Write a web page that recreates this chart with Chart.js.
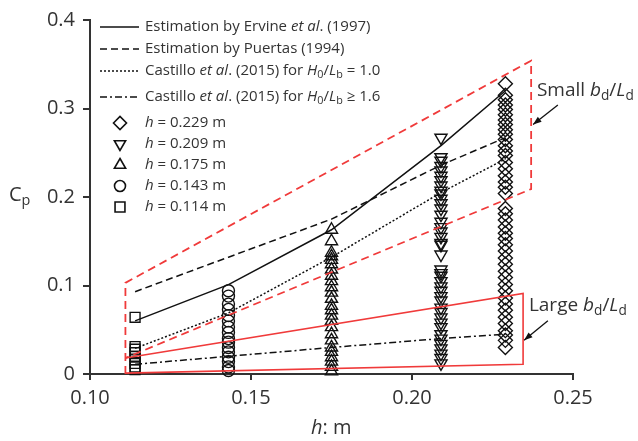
<!DOCTYPE html>
<html lang="en">
<head>
    <meta charset="UTF-8">
    <title>Cp against h</title>
    <script src="https://cdn.jsdelivr.net/npm/chart.js"></script>
    <style>
        html, body { margin: 0; padding: 0; background: #fff; }
        #wrap { width: 638px; height: 441px; }
    </style>
</head>
<body>
    <div id="wrap"><canvas id="cpChart" width="638" height="441"></canvas></div>

    <script>
        // curve values at the five test heights
        const hValues = [0.114, 0.143, 0.175, 0.209, 0.229];
        const ervine = [0.060, 0.101, 0.163, 0.258, 0.320];
        const puertas = [0.093, 0.132, 0.175, 0.236, 0.267];
        const castillo10 = [0.029, 0.069, 0.132, 0.205, 0.243];
        const castillo16 = [0.011, 0.020, 0.030, 0.040, 0.045];

        // measured Cp at each h
        const cp114 = [0.064, 0.031, 0.028, 0.024, 0.020, 0.016, 0.012, 0.008, 0.005];
        const cp143 = [0.094, 0.088, 0.079, 0.073, 0.066, 0.060, 0.053, 0.047, 0.040, 0.036,
                       0.030, 0.025, 0.019, 0.014, 0.008, 0.004];
        const cp175 = [0.163, 0.150, 0.137, 0.133, 0.129, 0.124, 0.118, 0.111, 0.105, 0.098,
                       0.092, 0.085, 0.077, 0.072, 0.066, 0.060, 0.053, 0.045, 0.038, 0.030,
                       0.025, 0.019, 0.014, 0.008, 0.003];
        const cp209 = [0.267, 0.245, 0.241, 0.235, 0.230, 0.224, 0.219, 0.213, 0.207, 0.204,
                       0.198, 0.193, 0.187, 0.180, 0.172, 0.166, 0.161, 0.155, 0.148, 0.146,
                       0.135, 0.118, 0.114, 0.111, 0.105, 0.099, 0.094, 0.088, 0.083, 0.075,
                       0.070, 0.064, 0.058, 0.053, 0.045, 0.040, 0.034, 0.029, 0.023, 0.018, 0.012];
        const cp229 = [0.328, 0.315, 0.310, 0.304, 0.299, 0.293, 0.287, 0.282, 0.276, 0.271,
                       0.265, 0.258, 0.252, 0.247, 0.239, 0.232, 0.224, 0.217, 0.211, 0.204,
                       0.187, 0.181, 0.174, 0.166, 0.159, 0.153, 0.146, 0.139, 0.131, 0.124,
                       0.116, 0.109, 0.101, 0.094, 0.086, 0.079, 0.072, 0.064, 0.057, 0.049,
                       0.044, 0.038, 0.030];

        // envelopes (red)
        const smallX = [0.111, 0.111, 0.237, 0.237, 0.111];
        const smallY = [0.000, 0.103, 0.354, 0.209, 0.018];
        const largeX = [0.111, 0.2345, 0.2345, 0.111];
        const largeY = [0.018, 0.091, 0.011, 0.001];

        const xTicks = [0.10, 0.15, 0.20, 0.25];
        const yTicks = [0, 0.1, 0.2, 0.3, 0.4];

        const FONT = '"Open Sans", "Noto Sans", sans-serif';
        const TEXT = '#333';
        const RED = '#f03a3a';

        const pts = (xs, ys) => xs.map((x, i) => ({ x: x, y: ys[i] }));
        const column = (h, ys) => ys.map(y => ({ x: h, y: y }));

        function lineSet(label, ys, dash) {
            return {
                label: label, data: pts(hValues, ys), showLine: true,
                borderColor: '#111', borderWidth: 1.5, borderDash: dash,
                pointRadius: 0, fill: false, clip: false
            };
        }
        function markSet(label, h, ys, style, r, rot) {
            return {
                label: label, data: column(h, ys), showLine: false,
                pointStyle: style, pointRadius: r, pointRotation: rot || 0,
                pointBorderColor: '#111', pointBackgroundColor: 'rgba(0,0,0,0)',
                pointBorderWidth: 1.4, pointHoverRadius: r, clip: false
            };
        }

        // draws text with italic/subscript pieces, returns end x
        function rich(ctx, x, y, parts, size) {
            parts.forEach(p => {
                const s = p.sub ? size * 0.72 : size;
                ctx.font = (p.i ? 'italic ' : '') + s + 'px ' + FONT;
                ctx.fillText(p.t, x, p.sub ? y + size * 0.28 : y);
                x += ctx.measureText(p.t).width;
            });
            return x;
        }

        function arrow(ctx, x1, y1, x2, y2) {
            ctx.strokeStyle = '#111';
            ctx.fillStyle = '#111';
            ctx.lineWidth = 1.3;
            ctx.beginPath();
            ctx.moveTo(x1, y1);
            ctx.lineTo(x2, y2);
            ctx.stroke();
            const a = Math.atan2(y2 - y1, x2 - x1);
            ctx.beginPath();
            ctx.moveTo(x2, y2);
            ctx.lineTo(x2 - 9 * Math.cos(a - 0.35), y2 - 9 * Math.sin(a - 0.35));
            ctx.lineTo(x2 - 9 * Math.cos(a + 0.35), y2 - 9 * Math.sin(a + 0.35));
            ctx.closePath();
            ctx.fill();
        }

        const extras = {
            id: 'extras',
            afterDraw(chart) {
                const ctx = chart.ctx;
                const xs = chart.scales.x, ys = chart.scales.y;
                ctx.save();
                ctx.textBaseline = 'middle';
                ctx.fillStyle = TEXT;

                // legend: line samples
                const lines = [
                    { dash: [], y: 27, parts: [{ t: 'Estimation by Ervine ' }, { t: 'et al', i: true }, { t: '. (1997)' }] },
                    { dash: [7, 4], y: 49, parts: [{ t: 'Estimation by Puertas (1994)' }] },
                    { dash: [2, 2], y: 71, parts: [{ t: 'Castillo ' }, { t: 'et al', i: true }, { t: '. (2015) for ' },
                        { t: 'H', i: true }, { t: '0', sub: true }, { t: '/' }, { t: 'L', i: true }, { t: 'b', sub: true }, { t: ' = 1.0' }] },
                    { dash: [7, 3, 2, 3], y: 97, parts: [{ t: 'Castillo ' }, { t: 'et al', i: true }, { t: '. (2015) for ' },
                        { t: 'H', i: true }, { t: '0', sub: true }, { t: '/' }, { t: 'L', i: true }, { t: 'b', sub: true }, { t: ' \u2265 1.6' }] }
                ];
                lines.forEach(l => {
                    ctx.strokeStyle = '#111';
                    ctx.lineWidth = 1.5;
                    ctx.setLineDash(l.dash);
                    ctx.beginPath();
                    ctx.moveTo(100, l.y);
                    ctx.lineTo(139, l.y);
                    ctx.stroke();
                    ctx.setLineDash([]);
                    ctx.fillStyle = TEXT;
                    rich(ctx, 145, l.y, l.parts, 15);
                });

                // legend: markers (open symbols)
                const marks = [
                    { s: 'rectRot', r: 6.5, rot: 0, y: 123, v: '0.229' },
                    { s: 'triangle', r: 6.5, rot: 180, y: 144, v: '0.209' },
                    { s: 'triangle', r: 6.5, rot: 0, y: 165, v: '0.175' },
                    { s: 'circle', r: 5.5, rot: 0, y: 186, v: '0.143' },
                    { s: 'rect', r: 7, rot: 0, y: 207, v: '0.114' }
                ];
                marks.forEach(m => {
                    ctx.strokeStyle = '#111';
                    ctx.fillStyle = 'rgba(0,0,0,0)';
                    ctx.lineWidth = 1.6;
                    Chart.helpers.drawPoint(ctx, { pointStyle: m.s, radius: m.r, rotation: m.rot, borderWidth: 1.6 }, 120, m.y);
                    ctx.fillStyle = TEXT;
                    rich(ctx, 145, m.y, [{ t: 'h', i: true }, { t: ' = ' + m.v + ' m' }], 15);
                });

                // axis titles
                ctx.fillStyle = TEXT;
                rich(ctx, 9, 195, [{ t: 'C' }, { t: 'p', sub: true }], 20);
                rich(ctx, 311, 428, [{ t: 'h', i: true }, { t: ': m' }], 20);

                // annotations
                rich(ctx, xs.getPixelForValue(0.2388), ys.getPixelForValue(0.32),
                    [{ t: 'Small ' }, { t: 'b', i: true }, { t: 'd', sub: true }, { t: '/' }, { t: 'L', i: true }, { t: 'd', sub: true }], 19);
                rich(ctx, xs.getPixelForValue(0.2363), ys.getPixelForValue(0.077),
                    [{ t: 'Large ' }, { t: 'b', i: true }, { t: 'd', sub: true }, { t: '/' }, { t: 'L', i: true }, { t: 'd', sub: true }], 19);
                arrow(ctx, xs.getPixelForValue(0.2453), ys.getPixelForValue(0.304),
                    xs.getPixelForValue(0.2376), ys.getPixelForValue(0.282));
                arrow(ctx, xs.getPixelForValue(0.2422), ys.getPixelForValue(0.0603),
                    xs.getPixelForValue(0.2348), ys.getPixelForValue(0.038));
                ctx.restore();
            }
        };

        const ctx = document.getElementById('cpChart').getContext('2d');
        new Chart(ctx, {
            type: 'scatter',
            data: {
                datasets: [
                    { label: 'Small', data: pts(smallX, smallY), showLine: true, borderColor: RED,
                      borderWidth: 1.8, borderDash: [8, 5], pointRadius: 0, clip: false },
                    { label: 'Large', data: pts(largeX, largeY), showLine: true, borderColor: RED,
                      borderWidth: 1.6, pointRadius: 0, clip: false },
                    lineSet('Ervine', ervine, []),
                    lineSet('Puertas', puertas, [7, 4]),
                    lineSet('Castillo 1.0', castillo10, [2, 2]),
                    lineSet('Castillo 1.6', castillo16, [7, 3, 2, 3]),
                    markSet('h = 0.229 m', 0.229, cp229, 'rectRot', 7),
                    markSet('h = 0.209 m', 0.209, cp209, 'triangle', 7, 180),
                    markSet('h = 0.175 m', 0.175, cp175, 'triangle', 7),
                    markSet('h = 0.143 m', 0.143, cp143, 'circle', 6),
                    markSet('h = 0.114 m', 0.114, cp114, 'rect', 7)
                ]
            },
            options: {
                responsive: false,
                animation: false,
                layout: { padding: { left: 0, right: 65, top: 16, bottom: 0 } },
                plugins: { legend: { display: false }, tooltip: { enabled: false } },
                scales: {
                    x: {
                        type: 'linear', min: 0.1, max: 0.25,
                        afterBuildTicks: s => { s.ticks = xTicks.map(v => ({ value: v })); },
                        afterFit: s => { s.height = 67; },
                        ticks: { callback: v => v.toFixed(2), color: TEXT, padding: 6,
                                 font: { family: FONT, size: 20 } },
                        grid: { drawOnChartArea: false, drawTicks: true, tickLength: 6, color: '#333', lineWidth: 2 },
                        border: { display: true, color: '#333', width: 2 }
                    },
                    y: {
                        type: 'linear', min: 0, max: 0.4,
                        afterBuildTicks: s => { s.ticks = yTicks.map(v => ({ value: v })); },
                        afterFit: s => { s.width = 90; },
                        ticks: { callback: v => (v === 0 ? '0' : v.toFixed(1)), color: TEXT, padding: 8,
                                 font: { family: FONT, size: 20 } },
                        grid: { drawOnChartArea: false, drawTicks: true, tickLength: 7, color: '#333', lineWidth: 2 },
                        border: { display: true, color: '#333', width: 2 }
                    }
                }
            },
            plugins: [extras]
        });
    </script>
</body>
</html>
